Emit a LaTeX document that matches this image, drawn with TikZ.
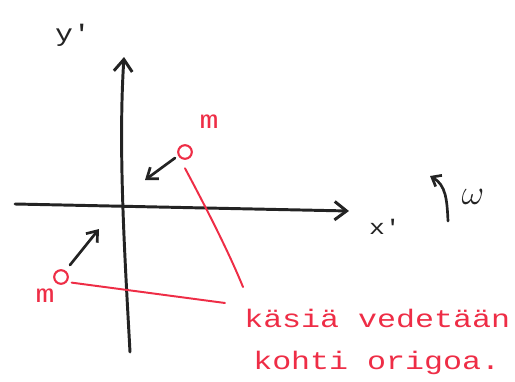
\documentclass[tikz,border=0pt]{standalone}
\usepackage{fontspec}
\newfontfamily\hand[FakeStretch=1.25]{Liberation Mono}
\usepackage{xcolor}
\usepackage{tikz}
\usetikzlibrary{arrows.meta, positioning}
\definecolor{penred}{RGB}{238,45,70}
\definecolor{penblack}{RGB}{35,35,35}
\tikzstyle{axis} = [penblack, line width=2.1pt, line cap=round, -{Straight Barb[length=3mm, width=4.6mm, line width=2.1pt]}]
\tikzstyle{pull} = [penblack, line width=1.9pt, line cap=round, -{Straight Barb[length=2.4mm, width=3.6mm, line width=1.9pt]}]
\tikzstyle{mass} = [circle, draw=penred, line width=1.5pt, minimum size=0.34cm, inner sep=0pt]
\tikzstyle{redline} = [penred, line width=1.4pt, line cap=round]
\tikzstyle{label} = [inner sep=0pt, font=\hand\fontsize{18}{18}\selectfont]

\begin{document}
\begin{tikzpicture}[x=0.025cm, y=-0.025cm]
    \useasboundingbox (0,0) rectangle (515,382);

    \coordinate (ybot) at (130,352);
    \coordinate (ytop) at (124,57);
    \coordinate (xleft) at (15,204);
    \coordinate (xright) at (349,211);
    \draw [axis] (ybot) .. controls (125,260) and (118,150) .. (ytop);
    \draw [axis] (xleft) -- (xright);
    \node (ylab) [label, penblack, font=\hand\fontsize{17}{17}\selectfont] at (73,35) {y'};
    \node (xlab) [label, penblack, font=\hand\fontsize{15}{15}\selectfont] at (385,227) {x'};

    \coordinate (wbot) at (448,221);
    \coordinate (wtop) at (430,176);
    \draw [pull, -{Straight Barb[length=2mm, width=3.2mm, line width=1.9pt]}] (wbot) .. controls (447,200) and (446,185) .. (wtop);
    \node (omega) [inner sep=0pt, penblack, font=\fontsize{26}{26}\selectfont] at (473,197) {$\omega$};

    \node (m1) [mass] at (185,152) {};
    \node (m1lab) [label, penred] at (209,122) {m};
    \node (m2) [mass] at (61,277) {};
    \node (m2lab) [label, penred] at (45,296) {m};

    \coordinate (p1a) at (175,158);
    \coordinate (p1b) at (145,180);
    \coordinate (p2a) at (70,265);
    \coordinate (p2b) at (99,229);
    \draw [pull] (p1a) -- (p1b);
    \draw [pull] (p2a) -- (p2b);

    \node (hands) [label, penred, anchor=base west] at (244,327) {käsiä vedetään};
    \node (origin) [label, penred, anchor=base west] at (253,369) {kohti origoa.};

    \coordinate (end1) at (243,287);
    \coordinate (end2) at (225,303);
    \draw [redline] ([yshift=-6pt]m1.south) .. controls (202,200) and (228,250) .. (end1);
    \draw [redline] ([xshift=2pt, yshift=-4pt]m2.east) -- (end2);
\end{tikzpicture}
\end{document}
